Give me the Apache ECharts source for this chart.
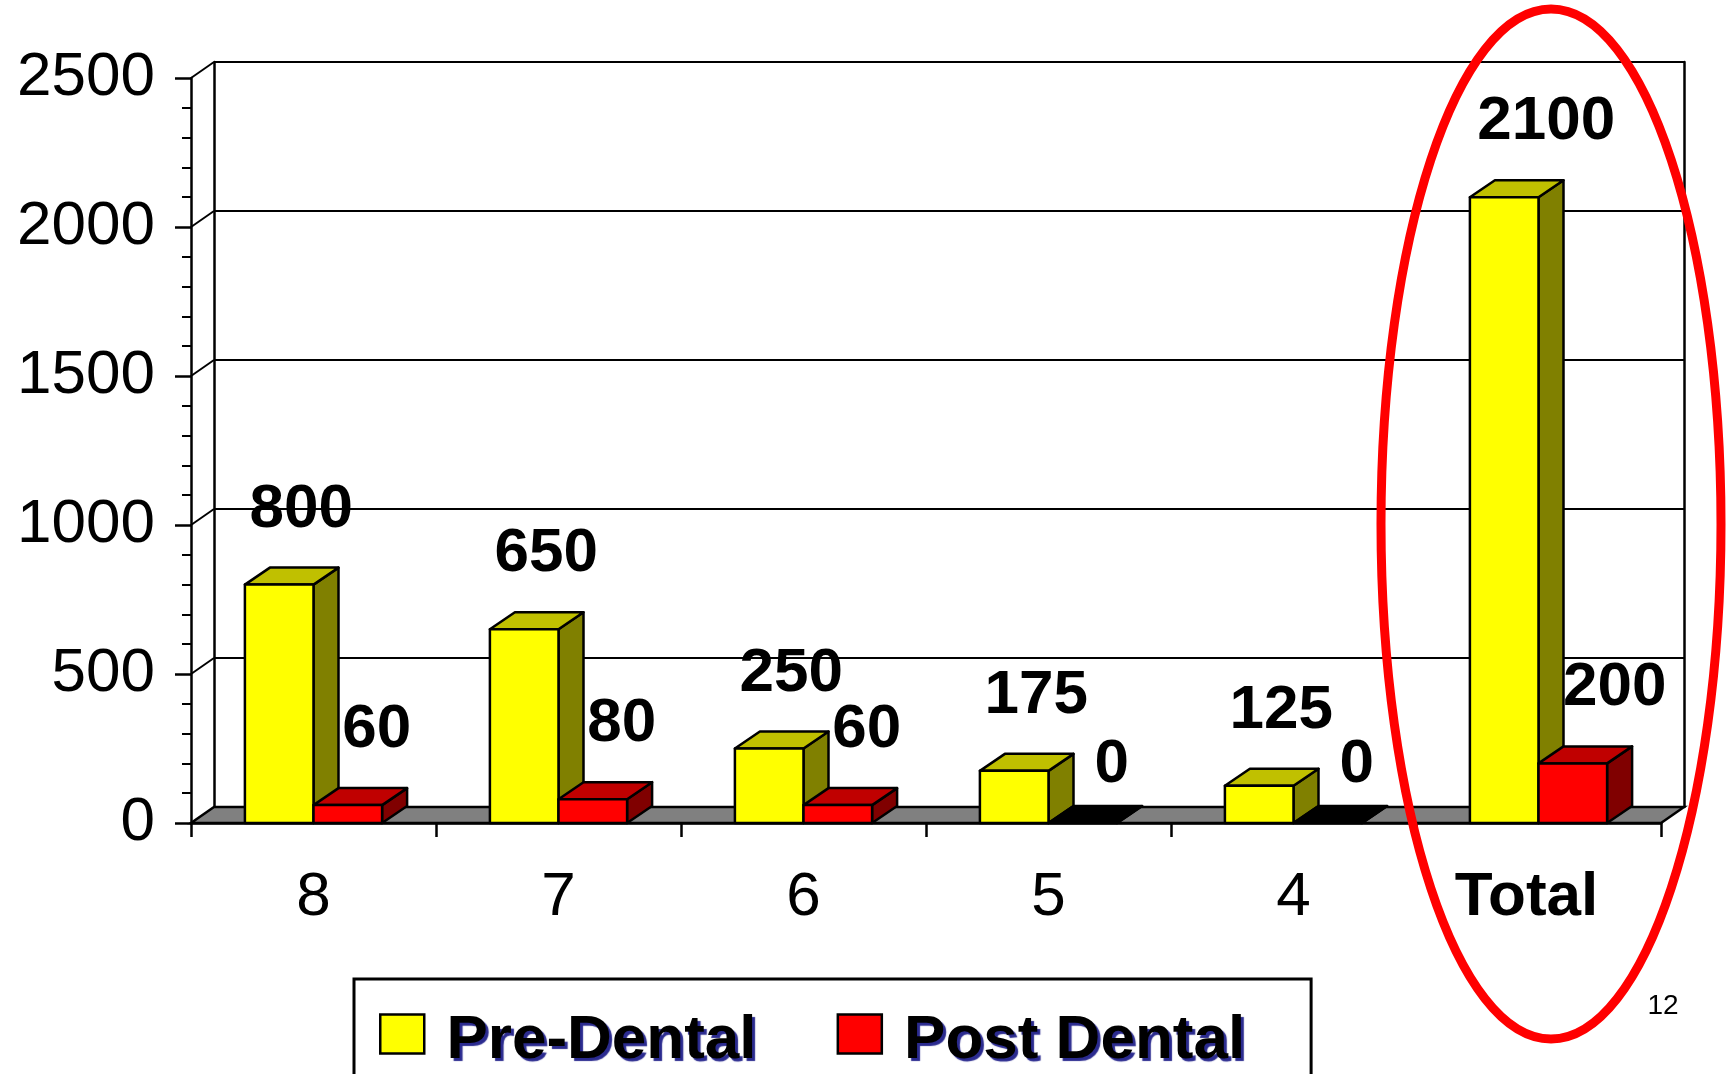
<!DOCTYPE html>
<html>
<head>
<meta charset="utf-8">
<title>Pre-Dental / Post Dental</title>
<script src="https://cdn.jsdelivr.net/npm/echarts@6/dist/echarts.min.js"></script>
<style>
  html, body { margin: 0; padding: 0; background: #fff; }
  #chart { width: 1729px; height: 1074px; }
</style>
</head>
<body>
<div id="chart"></div>
<script>
// data
const categories = ['8', '7', '6', '5', '4', 'Total'];
const preDental = [800, 650, 250, 175, 125, 2100];
const postDental = [60, 80, 60, 0, 0, 200];
const yTicks = [0, 500, 1000, 1500, 2000, 2500];

const FONT = '"Liberation Sans", Arial, sans-serif';
// fake 3D depth of the walls and of the columns
const WALL_DX = 23, WALL_DY = -16;
const BAR_DX = 25, BAR_DY = -17;

const palette = {
  pre: { front: '#ffff00', top: '#c0c000', side: '#808000' },
  post: { front: '#ff0000', top: '#c00000', side: '#800000' }
};

// draws one 3D column (front, top, side) plus its value label
function barRenderer(colors, half) {
  return function (params, api) {
    const idx = api.value(0);
    const val = api.value(1);
    const band = api.size([1, 0])[0];
    const w = band * 0.28;
    const base = api.coord([idx, 0]);
    const top = api.coord([idx, val]);
    const x0 = half < 0 ? base[0] - w : base[0];
    const x1 = x0 + w;
    const yb = base[1], yt = top[1];
    const edge = { stroke: '#000', lineWidth: 2.5, lineJoin: 'round' };
    const children = [];

    children.push({
      type: 'polygon',
      shape: { points: [[x1, yt], [x1 + BAR_DX, yt + BAR_DY], [x1 + BAR_DX, yb + BAR_DY], [x1, yb]] },
      style: Object.assign({ fill: colors.side }, edge)
    });
    children.push({
      type: 'polygon',
      shape: { points: [[x0, yt], [x1, yt], [x1 + BAR_DX, yt + BAR_DY], [x0 + BAR_DX, yt + BAR_DY]] },
      style: Object.assign({ fill: val === 0 ? '#000' : colors.top }, edge)
    });
    if (val > 0) {
      children.push({
        type: 'rect',
        shape: { x: x0, y: yt, width: w, height: yb - yt },
        style: Object.assign({ fill: colors.front }, edge)
      });
    }

    const isLast = idx === categories.length - 1;
    const shift = isLast ? 42 : (half < 0 ? 22 : 29);
    children.push({
      type: 'text',
      x: (x0 + x1) / 2 + shift,
      y: yt - (val === 0 ? 27 : 44),
      z2: 10,
      style: {
        text: String(val),
        font: 'bold 62px ' + FONT,
        fill: '#000',
        align: 'center',
        verticalAlign: 'bottom'
      }
    });
    return { type: 'group', children: children };
  };
}

// floor and the side-wall diagonals
function wallRenderer(params, api) {
  const v = api.value(1);
  const rect = params.coordSys;
  const p = api.coord([0, v]);
  const xl = rect.x;
  if (v === 0) {
    const xr = rect.x + rect.width;
    return {
      type: 'polygon',
      shape: { points: [[xl, p[1]], [xr, p[1]], [xr + WALL_DX, p[1] + WALL_DY], [xl + WALL_DX, p[1] + WALL_DY]] },
      style: { fill: '#808080', stroke: '#000', lineWidth: 2.5 }
    };
  }
  return {
    type: 'line',
    shape: { x1: xl, y1: p[1], x2: xl + WALL_DX, y2: p[1] + WALL_DY },
    style: { stroke: '#000', lineWidth: 2 }
  };
}

const chart = echarts.init(document.getElementById('chart'));

chart.setOption({
  animation: false,
  backgroundColor: '#fff',
  grid: [
    { left: 191, top: 78, width: 1470, height: 745 },
    { left: 191 + WALL_DX, top: 78 + WALL_DY, width: 1470, height: 745 }
  ],
  xAxis: [
    {
      type: 'category',
      gridIndex: 0,
      data: categories,
      axisLine: { lineStyle: { color: '#000', width: 2.5 } },
      axisTick: { show: true, length: 14, lineStyle: { color: '#000', width: 2.5 } },
      axisLabel: {
        interval: 0,
        margin: 44,
        color: '#000',
        fontFamily: FONT,
        fontSize: 62,
        formatter: function (v) { return v === 'Total' ? '{b|Total}' : v; },
        rich: { b: { fontFamily: FONT, fontSize: 62, fontWeight: 'bold', color: '#000', padding: [0, 24, 0, 0] } }
      }
    },
    { type: 'category', gridIndex: 1, data: categories, show: false }
  ],
  yAxis: [
    {
      type: 'value',
      gridIndex: 0,
      min: 0,
      max: 2500,
      interval: 500,
      axisLine: { show: true, lineStyle: { color: '#000', width: 2.5 } },
      axisTick: { show: true, length: 16, lineStyle: { color: '#000', width: 2.5 } },
      minorTick: { show: true, splitNumber: 5, length: 9, lineStyle: { color: '#000', width: 2 } },
      splitLine: { show: false },
      axisLabel: {
        margin: 36,
        color: '#000',
        fontFamily: FONT,
        fontSize: 62,
        formatter: function (v) { return String(v); }
      }
    },
    {
      type: 'value',
      gridIndex: 1,
      min: 0,
      max: 2500,
      interval: 500,
      axisLine: { show: true, lineStyle: { color: '#000', width: 2.5 } },
      axisTick: { show: false },
      axisLabel: { show: false },
      splitLine: { show: true, lineStyle: { color: '#000', width: 2 } }
    },
    {
      type: 'value',
      gridIndex: 1,
      position: 'right',
      min: 0,
      max: 2500,
      interval: 500,
      axisLine: { show: true, lineStyle: { color: '#000', width: 2.5 } },
      axisTick: { show: false },
      axisLabel: { show: false },
      splitLine: { show: false }
    }
  ],
  legend: {
    data: [
      { name: 'Pre-Dental', icon: 'rect' },
      { name: 'Post Dental', icon: 'rect' }
    ],
    left: 354,
    top: 979,
    padding: [24, 66, 90, 25],
    itemGap: 80,
    itemWidth: 44,
    itemHeight: 39,
    borderColor: '#000',
    borderWidth: 3,
    selectedMode: false,
    formatter: function (n) { return ' {t|' + n + '}'; },
    itemStyle: { borderColor: '#000', borderWidth: 2.5 },
    textStyle: {
      fontFamily: FONT,
      fontSize: 62,
      fontWeight: 'bold',
      color: '#000',
      rich: {
        t: {
          fontFamily: FONT,
          fontSize: 62,
          fontWeight: 'bold',
          color: '#000',
          padding: [14, 0, 0, 0],
          textShadowColor: '#2b2b8f',
          textShadowOffsetX: 3,
          textShadowOffsetY: 3,
          textShadowBlur: 1
        }
      }
    }
  },
  graphic: [
    {
      type: 'ellipse',
      shape: { cx: 1551, cy: 524, rx: 170, ry: 515 },
      style: { fill: 'none', stroke: '#ff0000', lineWidth: 9 },
      z: 100
    },
    {
      type: 'text',
      x: 1663,
      y: 1006,
      style: { text: '12', font: '28px ' + FONT, fill: '#000', align: 'center', verticalAlign: 'middle' },
      z: 100
    }
  ],
  series: [
    {
      name: 'walls',
      type: 'custom',
      xAxisIndex: 0,
      yAxisIndex: 0,
      clip: false,
      silent: true,
      z: 1,
      renderItem: wallRenderer,
      data: yTicks.map(function (v) { return [0, v]; })
    },
    {
      name: 'Pre-Dental',
      type: 'custom',
      xAxisIndex: 0,
      yAxisIndex: 0,
      clip: false,
      z: 2,
      itemStyle: { color: palette.pre.front, borderColor: '#000', borderWidth: 2.5 },
      encode: { x: 0, y: 1 },
      renderItem: barRenderer(palette.pre, -1),
      data: preDental.map(function (v, i) { return [i, v]; })
    },
    {
      name: 'Post Dental',
      type: 'custom',
      xAxisIndex: 0,
      yAxisIndex: 0,
      clip: false,
      z: 3,
      itemStyle: { color: palette.post.front, borderColor: '#000', borderWidth: 2.5 },
      encode: { x: 0, y: 1 },
      renderItem: barRenderer(palette.post, 1),
      data: postDental.map(function (v, i) { return [i, v]; })
    }
  ]
});
</script>
</body>
</html>
